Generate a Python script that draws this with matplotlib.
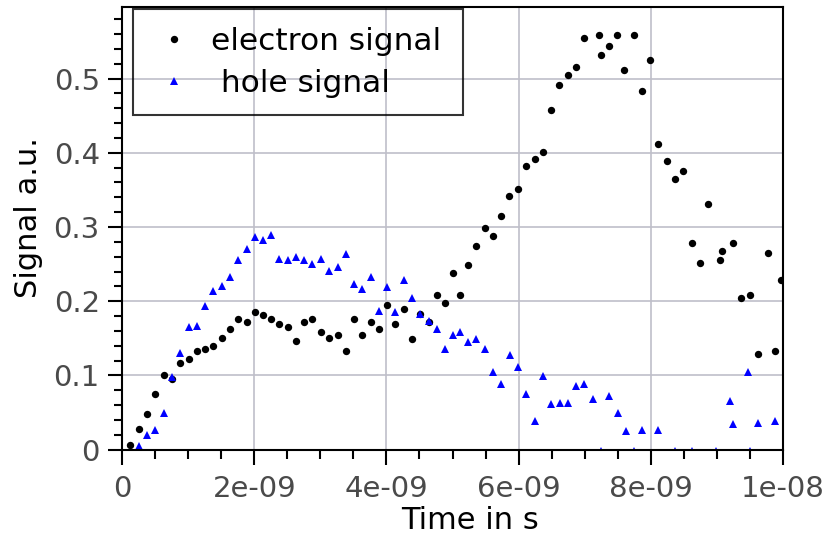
import matplotlib
matplotlib.use("Agg")
import matplotlib.pyplot as plt
from matplotlib.ticker import MultipleLocator

# Sample times (ns) and measured signals
time_e_ns = [0.121, 0.252, 0.378, 0.503, 0.630, 0.755, 0.876, 1.008, 1.133, 1.254,
             1.379, 1.506, 1.631, 1.757, 1.884, 2.005, 2.134, 2.255, 2.382, 2.508,
             2.633, 2.760, 2.881, 3.006, 3.131, 3.263, 3.384, 3.509, 3.636, 3.761,
             3.887, 4.008, 4.134, 4.260, 4.385, 4.512, 4.637, 4.763, 4.890, 5.011,
             5.110, 5.237, 5.363, 5.488, 5.615, 5.736, 5.861, 5.992, 6.118, 6.243,
             6.364, 6.491, 6.616, 6.742, 6.869, 6.989, 7.221, 7.240, 7.367, 7.492,
             7.594, 7.745, 7.870, 7.995, 8.116, 8.243, 8.369, 8.494, 8.621, 8.746,
             8.872, 9.044, 9.074, 9.245, 9.370, 9.497, 9.622, 9.773, 9.875, 9.974]
electron = [0.006, 0.028, 0.048, 0.075, 0.100, 0.095, 0.117, 0.122, 0.133, 0.136,
            0.140, 0.151, 0.163, 0.176, 0.172, 0.186, 0.181, 0.176, 0.169, 0.165,
            0.147, 0.172, 0.176, 0.158, 0.151, 0.154, 0.133, 0.176, 0.154, 0.172,
            0.163, 0.195, 0.169, 0.190, 0.149, 0.183, 0.172, 0.208, 0.197, 0.238,
            0.208, 0.249, 0.274, 0.299, 0.288, 0.315, 0.342, 0.351, 0.382, 0.391,
            0.401, 0.457, 0.491, 0.505, 0.516, 0.555, 0.558, 0.532, 0.544, 0.558,
            0.512, 0.558, 0.483, 0.525, 0.412, 0.389, 0.364, 0.376, 0.279, 0.251,
            0.331, 0.256, 0.267, 0.279, 0.204, 0.208, 0.129, 0.265, 0.133, 0.229]

time_h_ns = [0.252, 0.378, 0.503, 0.630, 0.755, 0.876, 1.008, 1.133, 1.254, 1.379,
             1.506, 1.631, 1.757, 1.884, 2.005, 2.134, 2.255, 2.382, 2.508, 2.633,
             2.760, 2.881, 3.006, 3.131, 3.263, 3.384, 3.509, 3.636, 3.761, 3.887,
             4.008, 4.134, 4.260, 4.385, 4.512, 4.637, 4.763, 4.890, 5.011, 5.110,
             5.237, 5.363, 5.488, 5.615, 5.740, 5.866, 5.992, 6.118, 6.243, 6.370,
             6.495, 6.621, 6.748, 6.869, 6.994, 7.120, 7.240, 7.372, 7.497, 7.624,
             7.745, 7.870, 8.116, 8.369, 8.621, 8.992, 9.194, 9.245, 9.471, 9.497,
             9.622, 9.875]
hole = [0.005, 0.020, 0.027, 0.049, 0.098, 0.130, 0.165, 0.167, 0.194, 0.214,
        0.221, 0.232, 0.255, 0.270, 0.287, 0.283, 0.289, 0.257, 0.255, 0.259,
        0.255, 0.250, 0.257, 0.241, 0.246, 0.264, 0.223, 0.217, 0.232, 0.187,
        0.219, 0.185, 0.228, 0.205, 0.183, 0.174, 0.163, 0.136, 0.154, 0.158,
        0.145, 0.149, 0.136, 0.104, 0.088, 0.127, 0.111, 0.075, 0.038, 0.099,
        0.061, 0.063, 0.063, 0.086, 0.088, 0.068, -0.002, 0.072, 0.049, 0.025,
        -0.002, 0.027, 0.027, -0.002, -0.002, -0.002, 0.066, 0.034, 0.104, -0.002,
        0.036, 0.038]

x_ticks = [0, 2e-9, 4e-9, 6e-9, 8e-9, 1e-8]
x_tick_labels = ["0", "2e-09", "4e-09", "6e-09", "8e-09", "1e-08"]
y_ticks = [0, 0.1, 0.2, 0.3, 0.4, 0.5]
y_tick_labels = ["0", "0.1", "0.2", "0.3", "0.4", "0.5"]

t_e = [t * 1e-9 for t in time_e_ns]
t_h = [t * 1e-9 for t in time_h_ns]

fig = plt.figure(figsize=(8.33, 5.39), dpi=100)
ax = fig.add_axes([0.14646, 0.16568, 0.79352, 0.82226])

ax.plot(t_e, electron, linestyle="none", marker="o", markersize=5.3,
        color="black", markeredgewidth=0, label="electron signal")
ax.plot(t_h, hole, linestyle="none", marker="^", markersize=5.2,
        color="#0000ff", markeredgewidth=0, label=" hole signal")

ax.set_xlim(0, 1e-8)
ax.set_ylim(0, 0.597)

ax.set_xticks(x_ticks)
ax.set_xticklabels(x_tick_labels)
ax.set_yticks(y_ticks)
ax.set_yticklabels(y_tick_labels)
ax.xaxis.set_minor_locator(MultipleLocator(5e-10))
ax.yaxis.set_minor_locator(MultipleLocator(0.02))

ax.tick_params(axis="x", which="major", direction="out", length=11, width=1.5,
               pad=7, labelsize=21, labelcolor="#4a4a4a")
ax.tick_params(axis="x", which="minor", direction="out", length=6.5, width=1.5)
ax.tick_params(axis="y", which="major", direction="out", length=10, width=1.5,
               pad=6, labelsize=21, labelcolor="#4a4a4a")
ax.tick_params(axis="y", which="minor", direction="out", length=5.5, width=1.5)
ax.tick_params(top=False, right=False, which="both")

for side in ax.spines.values():
    side.set_linewidth(1.5)
    side.set_color("black")

ax.set_axisbelow(True)
ax.grid(True, which="major", color="#bfbfc9", linewidth=1.2)

ax.set_xlabel("Time in s", fontsize=22)
ax.set_ylabel("Signal a.u.", fontsize=22)
ax.xaxis.set_label_coords(0.5265, -0.127)
ax.yaxis.set_label_coords(-0.1195, 0.523)

leg = ax.legend(loc="upper left", bbox_to_anchor=(0.0166, 0.0, 0.4993, 0.9937),
                mode="expand", borderaxespad=0, fontsize=22.5, handlelength=1.5,
                handletextpad=0.45, labelspacing=0.42, borderpad=0.56,
                fancybox=False, frameon=True, markerscale=1.0)
frame = leg.get_frame()
frame.set_facecolor("none")
frame.set_edgecolor("black")
frame.set_linewidth(1.5)

fig.savefig("out.png", dpi=100)
